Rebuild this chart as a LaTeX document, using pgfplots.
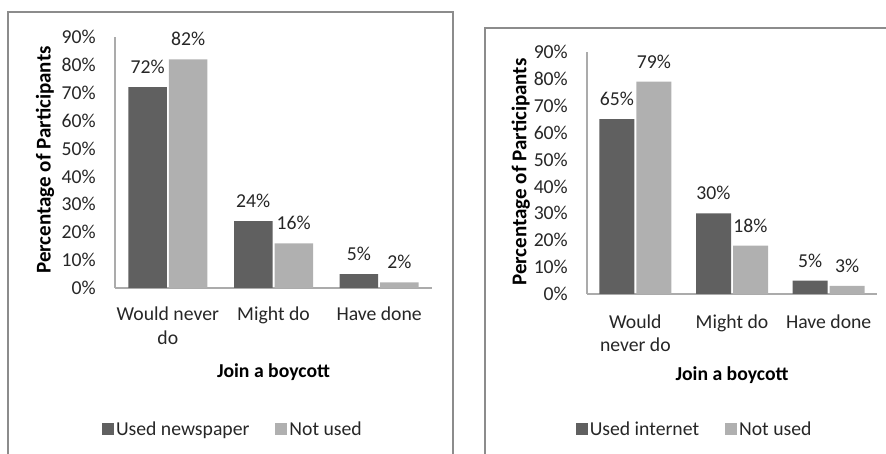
\documentclass[border=0pt]{standalone}
\usepackage{pgfplots}
\pgfplotsset{compat=1.18}
\usepackage{fontspec}
\setmainfont{Carlito}
\definecolor{darkbar}{HTML}{606060}
\definecolor{lightbar}{HTML}{B0B0B0}
\definecolor{axgray}{HTML}{ABABAB}
\definecolor{boxgray}{HTML}{8C8C8C}
\definecolor{txt}{HTML}{262626}

\pgfplotsset{
  boyc/.style={
    ybar, scale only axis, anchor=south west,
    xmin=-0.5, xmax=2.5, ymin=0, ymax=90,
    enlargelimits=false, clip=false,
    xtick={0,1,2}, ytick={0,10,...,90},
    yticklabel={\pgfmathprintnumber{\tick}\%},
    /pgf/number format/assume math mode=true,
    axis x line*=bottom, axis y line*=left,
    axis line style={axgray, line width=1.3bp, -},
    major tick length=0pt,
    tick style={draw=none},
    font=\fontsize{19.7bp}{23.5bp}\selectfont,
    every tick label/.append style={text=txt},
    yticklabel style={anchor=east, inner sep=0pt, xshift=-19bp},
    xticklabel style={anchor=north, inner sep=0pt, align=center, yshift=-19bp},
    xlabel={Join a boycott},
    ylabel={Percentage of Participants},
    label style={font=\fontsize{19.7bp}{23.5bp}\selectfont\bfseries, text=black},
    ylabel style={font=\fontsize{21bp}{24bp}\selectfont\bfseries},
    xlabel style={at={(axis description cs:0.5,-0.335)}, anchor=center},
    nodes near coords={\pgfmathprintnumber{\pgfplotspointmeta}\%},
    nodes near coords style={anchor=base, inner sep=0pt, yshift=13.5bp, text=txt, font=\fontsize{19.7bp}{23.5bp}\selectfont},
    legend columns=2,
    legend style={draw=none, fill=none, font=\fontsize{19.7bp}{23.5bp}\selectfont, text=txt,
      /tikz/every even column/.append style={column sep=24bp},
      nodes={inner sep=2bp}},
  }
}

\begin{document}
\begin{tikzpicture}[x=1bp,y=1bp]
\useasboundingbox (0,0) rectangle (886,454);
\draw[boxgray, line width=2bp] (8,-2) -- (8,442) -- (453,442) -- (453,-2);
\draw[boxgray, line width=2bp] (485,-2) -- (485,426) -- (888,426);

\begin{axis}[boyc,
  at={(115bp,166bp)}, width=317bp, height=251bp,
  bar width=38.5bp,
  xticklabels={{Would never\\do},{Might do},{Have done}},
  ylabel style={at={(axis description cs:-0.221,0.51)}, anchor=center},
  legend style={at={(axis description cs:0.372,-0.562)}, anchor=center},
]
\addplot[fill=darkbar, draw=none, legend image code/.code={\fill[darkbar] (0bp,-6bp) rectangle (12bp,6bp);}]
  coordinates {(0,72) (1,24) (2,5)};
\addplot[fill=lightbar, draw=none, legend image code/.code={\fill[lightbar] (0bp,-6bp) rectangle (12bp,6bp);}]
  coordinates {(0,82) (1,16) (2,2)};
\legend{Used newspaper, Not used}
\end{axis}

\begin{axis}[boyc,
  at={(587bp,160bp)}, width=290bp, height=242bp,
  bar width=35bp,
  xticklabels={{Would\\never do},{Might do},{Have done}},
  xticklabel style={yshift=-1.5bp},
  ylabel style={at={(axis description cs:-0.228,0.504)}, anchor=center},
  legend style={at={(axis description cs:0.371,-0.558)}, anchor=center},
]
\addplot[fill=darkbar, draw=none, legend image code/.code={\fill[darkbar] (0bp,-6bp) rectangle (12bp,6bp);}]
  coordinates {(0,65) (1,30) (2,5)};
\addplot[fill=lightbar, draw=none, legend image code/.code={\fill[lightbar] (0bp,-6bp) rectangle (12bp,6bp);}]
  coordinates {(0,79) (1,18) (2,3)};
\legend{Used internet, Not used}
\end{axis}
\end{tikzpicture}
\end{document}
